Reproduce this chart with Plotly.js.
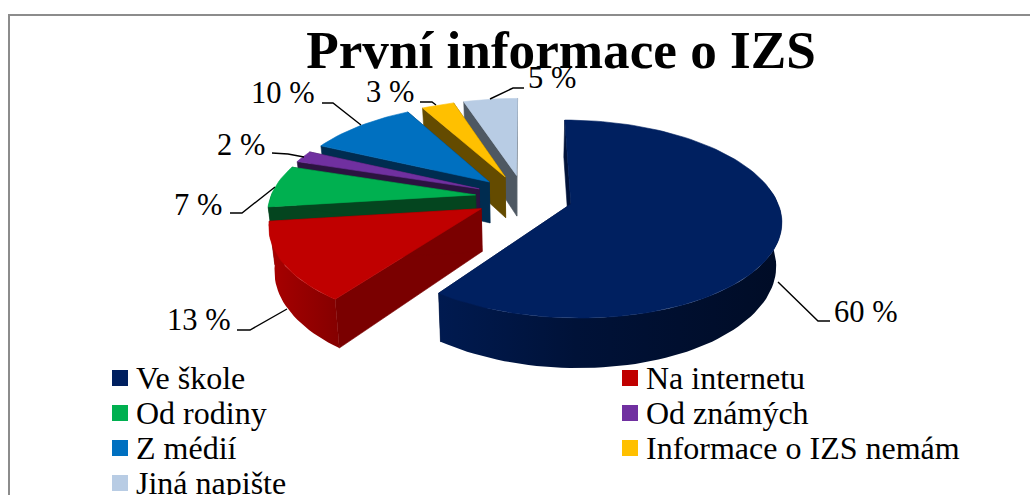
<!DOCTYPE html>
<html><head><meta charset="utf-8">
<script src="https://cdn.plot.ly/plotly-3.0.1.min.js"></script>
<style>html,body{margin:0;padding:0;background:#fff}#c{width:1030px;height:495px}</style>
</head><body><div id="c"></div>
<script>
// ---- data ----
const categories = ["Ve škole","Na internetu","Od rodiny","Od známých","Z médií","Informace o IZS nemám","Jiná napište"];
const values = [60,13,7,2,10,3,5];
const topColors = ["#002060","#C00000","#00B050","#7030A0","#0070C0","#FFC000","#B8CCE4"];
const sideColors = ["#00123a","#7a0000","#04451f","#2b1340","#002c50","#644b00","#4e5862"];
const rimScales = [
 [[0,"rgb(0,26,80)"],[0.4,"rgb(0,18,56)"],[1,"rgb(0,12,38)"]],
 [[0,"rgb(168,0,0)"],[1,"rgb(132,0,0)"]],
 [[0,"#04451f"],[1,"#04451f"]],
 [[0,"#2b1340"],[1,"#2b1340"]],
 [[0,"#002c50"],[1,"#002c50"]],
 [[0,"#644b00"],[1,"#644b00"]],
 [[0,"#4e5862"],[1,"#4e5862"]]
];
const titleText = "První informace o IZS";

// ---- layout of the 3D projection ----
const P = {cx:524, cy:197, a:205, b:94.6, k:0.15, explode:0.238, depth:42, shrink:0.978};
const drawOrder = [6,5,4,3,2,1,0];
const labelPos = [[866,312],[199,320],[198,205],[241,145],[283,93],[390,92],[552,78]];
const leaders = [
 [[778,282],[818,321],[830,321]],
 [[287,309],[250,330],[237,330]],
 [[275,187],[242,213],[230,213]],
 [[304,157],[288,154],[272,153]],
 [[361,125],[333,103],[322,103]],
 [[436,105],[432,102],[420,102]],
 [[490,99],[513,88],[524,88]]
];
const legendX = [112,622], legendY0 = 378, legendStep = 35, legendTextGap = 23;
const FONT = '"Liberation Serif","Times New Roman",serif';

function project(X,Y,drop){
  const w = 1 + P.k*Y;
  const s = drop ? P.shrink : 1;
  return [P.cx + s*P.a*X/w, P.cy - P.b*Y/w + (drop ? P.depth/w : 0)];
}
const total = values.reduce((s,v)=>s+v,0);
const rad = d=>d*Math.PI/180;
let cum = 0;
const slices = values.map(v=>{
  const s = cum/total*360; cum += v; const e = cum/total*360;
  const m = rad((s+e)/2);
  return {s, e, ox:P.explode*Math.sin(m), oy:P.explode*Math.cos(m)};
});
const traces = [];
function poly(pts,color,scale){
  const x = pts.map(p=>p[0]).concat(pts[0][0]);
  const y = pts.map(p=>p[1]).concat(pts[0][1]);
  const t = {type:'scatter',mode:'lines',x,y,fill:'toself',fillcolor:color,
    line:{color:color,width:scale?0:0.6},hoverinfo:'skip',showlegend:false};
  if(scale) t.fillgradient = {type:'horizontal',colorscale:scale};
  traces.push(t);
}
drawOrder.forEach(i=>{
  const sl = slices[i];
  const rim = d=>[sl.ox+Math.sin(rad(d)), sl.oy+Math.cos(rad(d))];
  const apex = [sl.ox, sl.oy];
  // radial walls
  [sl.s, sl.e].forEach(d=>{
    const r = rim(d);
    poly([project(apex[0],apex[1]),project(r[0],r[1]),project(r[0],r[1],true),project(apex[0],apex[1],true)],sideColors[i]);
  });
  // rim wall, front facing part only (one band, shaded left to right; the navy slice runs right to left)
  const a0 = Math.max(sl.s,80), a1 = Math.min(sl.e,272);
  if(a1>a0){
    const n = Math.ceil((a1-a0)/2), up = [], dn = [];
    for(let j=0;j<=n;j++){
      const r = rim(a0+(a1-a0)*j/n);
      up.push(project(r[0],r[1])); dn.unshift(project(r[0],r[1],true));
    }
    poly(up.concat(dn),sideColors[i],rimScales[i]);
  }
  // top face
  const pts = [project(apex[0],apex[1])];
  const m = Math.ceil((sl.e-sl.s)/2);
  for(let j=0;j<=m;j++){ const r = rim(sl.s+(sl.e-sl.s)*j/m); pts.push(project(r[0],r[1])); }
  poly(pts,topColors[i]);
});
// leader lines
leaders.forEach(l=>traces.push({type:'scatter',mode:'lines',x:l.map(p=>p[0]),y:l.map(p=>p[1]),
  line:{color:'#000',width:1.4},hoverinfo:'skip',showlegend:false}));
// legend swatches
traces.push({type:'scatter',mode:'markers',
  x:categories.map((c,i)=>legendX[i%2]+8),
  y:categories.map((c,i)=>legendY0+legendStep*Math.floor(i/2)),
  marker:{symbol:'square',size:16,color:topColors,line:{width:0}},hoverinfo:'skip',showlegend:false});

const annotations = [];
values.forEach((v,i)=>annotations.push({x:labelPos[i][0],y:labelPos[i][1],xref:'x',yref:'y',
  text:v+' %',showarrow:false,xanchor:'center',yanchor:'middle',font:{family:FONT,size:30.5,color:'#000'}}));
categories.forEach((c,i)=>annotations.push({x:legendX[i%2]+legendTextGap,y:legendY0+legendStep*Math.floor(i/2),
  xref:'x',yref:'y',text:c,showarrow:false,xanchor:'left',yanchor:'middle',borderpad:0,
  font:{family:FONT,size:32,color:'#000'}}));

const layout = {
  width:1030,height:495,margin:{l:0,r:0,t:0,b:0},paper_bgcolor:'#fff',plot_bgcolor:'#fff',showlegend:false,
  title:{text:'<b>'+titleText+'</b>',x:0.5447,xanchor:'center',y:0.9,yanchor:'middle',xref:'paper',yref:'paper',
    font:{family:FONT,size:53.2,color:'#000'}},
  xaxis:{range:[0,1030],visible:false,fixedrange:true},
  yaxis:{range:[495,0],visible:false,fixedrange:true},
  annotations,
  shapes:[
    {type:'line',xref:'x',yref:'y',x0:9,x1:9,y0:15,y1:495,line:{color:'#8c8c8c',width:2}},
    {type:'line',xref:'x',yref:'y',x0:8,x1:1030,y0:15,y1:15,line:{color:'#8c8c8c',width:2}}
  ]
};
Plotly.newPlot('c',traces,layout,{displayModeBar:false,staticPlot:true});
</script></body></html>
